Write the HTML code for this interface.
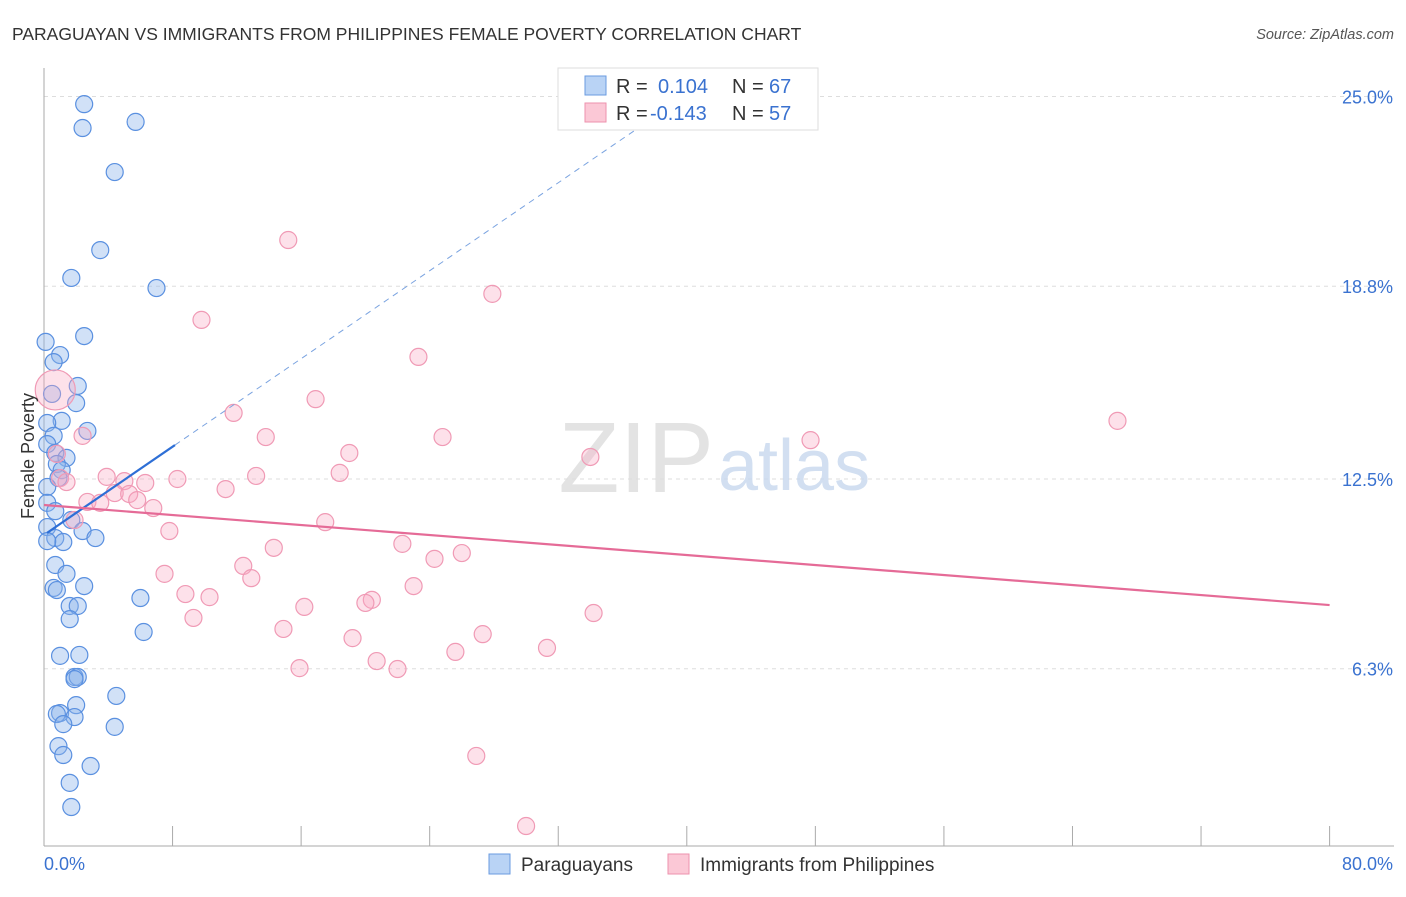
<!DOCTYPE html>
<html><head><meta charset="utf-8"><style>
body{margin:0;background:#fff;font-family:"Liberation Sans",sans-serif}
svg text{font-family:"Liberation Sans",sans-serif}
</style></head><body>
<svg id="chart" width="1406" height="892" xmlns="http://www.w3.org/2000/svg">
<text x="12" y="40" font-size="17.5" fill="#333">PARAGUAYAN VS IMMIGRANTS FROM PHILIPPINES FEMALE POVERTY CORRELATION CHART</text>
<text x="1394" y="39" font-size="14.5" fill="#555" text-anchor="end" font-style="italic">Source: ZipAtlas.com</text>
<g id="grid"></g>
<text x="714" y="492" font-size="100" fill="#ddd" text-anchor="end" font-family="Liberation Serif" opacity="0.8">ZIP</text>
<text x="718" y="490" font-size="72" fill="#c8d8ee" opacity="0.8">atlas</text>
<g id="pts"></g>
<g id="lines"></g>
<text transform="translate(34,456) rotate(-90)" font-size="18" fill="#333" text-anchor="middle">Female Poverty</text>
<g>
<rect x="558" y="68" width="260" height="62" fill="#fff" stroke="#ddd"/>
<rect x="585" y="76" width="21" height="19" fill="#b9d3f5" stroke="#6a9be0"/>
<rect x="585" y="103" width="21" height="19" fill="#fbc8d6" stroke="#ee92ad"/>
<text x="616" y="93" font-size="20" fill="#333">R = </text><text x="658" y="93" font-size="20" fill="#3a72d0">0.104</text>
<text x="732" y="93" font-size="20" fill="#333">N = </text><text x="769" y="93" font-size="20" fill="#3a72d0">67</text>
<text x="616" y="120" font-size="20" fill="#333">R = </text><text x="650" y="120" font-size="20" fill="#3a72d0">-0.143</text>
<text x="732" y="120" font-size="20" fill="#333">N = </text><text x="769" y="120" font-size="20" fill="#3a72d0">57</text>
</g>
<g>
<rect x="489" y="854" width="21" height="20" fill="#b9d3f5" stroke="#6a9be0"/>
<text x="521" y="871" font-size="19" fill="#333">Paraguayans</text>
<rect x="668" y="854" width="21" height="20" fill="#fbc8d6" stroke="#ee92ad"/>
<text x="700" y="871" font-size="19" fill="#333">Immigrants from Philippines</text>
</g>
</svg>
<script>
const yTicks=[25.0,18.8,12.5,6.3];
const yTickLabels=["25.0%","18.8%","12.5%","6.3%"];
const xTickLabels=["0.0%","80.0%"];
const blueX=[2.5,2.4,5.7,4.4,3.5,1.7,7.0,2.5,0.1,1.0,0.6,2.1,0.5,2.0,1.1,0.2,2.7,0.6,0.2,0.7,1.4,0.8,1.1,0.9,0.2,0.2,0.7,1.7,0.2,2.4,3.2,0.7,1.2,0.2,0.7,1.4,0.6,2.5,0.8,1.6,2.1,6.0,1.6,6.2,1.0,2.2,1.9,2.1,1.9,4.5,1.0,2.0,0.8,1.9,1.2,4.4,0.9,1.2,2.9,1.6,1.7];
const blueY=[24.75,23.97,24.17,22.53,19.98,19.07,18.74,17.17,16.98,16.55,16.32,15.54,15.28,14.98,14.40,14.33,14.07,13.91,13.64,13.35,13.19,12.99,12.79,12.53,12.24,11.72,11.45,11.16,10.93,10.80,10.57,10.57,10.44,10.47,9.69,9.40,8.94,9.00,8.87,8.35,8.35,8.61,7.92,7.50,6.72,6.75,6.03,6.03,5.96,5.41,4.85,5.11,4.82,4.72,4.49,4.40,3.77,3.48,3.12,2.57,1.78];
const pinkX=[15.2,27.9,9.8,23.3,0.7,16.9,11.8,66.8,13.8,24.8,47.7,2.4,0.8,19.0,34.0,1.0,3.9,13.2,18.4,8.3,1.4,6.3,5.0,11.3,4.4,5.3,5.8,2.7,3.5,6.8,17.5,1.9,7.8,22.3,14.3,26.0,24.3,12.4,7.5,12.9,23.0,8.8,10.3,20.4,20.0,16.2,9.3,34.2,14.9,19.2,27.3,31.3,25.6,20.7,15.9,22.0,26.9,30.0];
const pinkY=[20.31,18.55,17.70,16.49,15.41,15.11,14.66,14.40,13.87,13.87,13.77,13.91,13.32,13.35,13.22,12.53,12.57,12.60,12.70,12.50,12.40,12.37,12.43,12.17,12.04,12.01,11.81,11.75,11.72,11.55,11.09,11.16,10.80,10.38,10.25,10.08,9.89,9.66,9.40,9.26,9.00,8.74,8.64,8.55,8.45,8.32,7.96,8.12,7.60,7.30,7.43,6.98,6.85,6.55,6.32,6.29,3.45,1.16];
const pinkR=[];pinkR[4]=20;
const blueTrend=[[0.19,10.74],[8.15,13.61],[37.7,24.23]];
const pinkTrend=[[0,11.65],[80,8.38]];
const NS="http://www.w3.org/2000/svg";
const X=v=>44+v*16.07, Y=v=>479-(v-12.5)*30.6;
const mk=(t,a,p)=>{const e=document.createElementNS(NS,t);for(const k in a)e.setAttribute(k,a[k]);document.getElementById(p).appendChild(e);return e;};
const g='grid';
yTicks.forEach((t,i)=>{
 const l=mk('line',{x1:44,x2:1394,y1:Y(t),y2:Y(t),stroke:'#ddd','stroke-dasharray':'4,4'},g);
 
 
 const tx=mk('text',{x:1393,y:Y(t)+7,'font-size':18,fill:'#3a72d0','text-anchor':'end'},g);tx.textContent=yTickLabels[i];
 
 
});
mk('line',{x1:44,x2:44,y1:68,y2:846,stroke:'#aaa'},g);
mk('line',{x1:44,x2:1394,y1:846,y2:846,stroke:'#aaa'},g);
for(let i=1;i<=10;i++){const l=mk('line',{x1:X(i*8),x2:X(i*8),y1:826,y2:846,stroke:'#aaa'},g);
 
 }
let t1=mk('text',{x:44,y:870,'font-size':18,fill:'#3a72d0'},g);t1.textContent=xTickLabels[0];


let t2=mk('text',{x:1393,y:870,'font-size':18,fill:'#3a72d0','text-anchor':'end'},g);t2.textContent=xTickLabels[1];


blueX.forEach((v,i)=>{const c=mk('circle',{cx:X(v),cy:Y(blueY[i]),r:8.5,fill:'rgba(140,180,235,0.4)',stroke:'#5a90e0','stroke-width':1.2},'pts');
 
 });
pinkX.forEach((v,i)=>{const c=mk('circle',{cx:X(v),cy:Y(pinkY[i]),r:pinkR[i]||8.5,fill:'rgba(248,170,195,0.35)',stroke:'#f09ab5','stroke-width':1.2},'pts');
 
 });
let b=mk('line',{x1:X(blueTrend[0][0]),y1:Y(blueTrend[0][1]),x2:X(blueTrend[1][0]),y2:Y(blueTrend[1][1]),stroke:'#2e6fd6','stroke-width':2.2},'lines');


let bd=mk('line',{x1:X(blueTrend[1][0]),y1:Y(blueTrend[1][1]),x2:X(blueTrend[2][0]),y2:Y(blueTrend[2][1]),stroke:'#7aa3e0','stroke-width':1,'stroke-dasharray':'6,5'},'lines');


let p=mk('line',{x1:X(pinkTrend[0][0]),y1:Y(pinkTrend[0][1]),x2:X(pinkTrend[1][0]),y2:Y(pinkTrend[1][1]),stroke:'#e56b97','stroke-width':2.2},'lines');


</script>
</body></html>
